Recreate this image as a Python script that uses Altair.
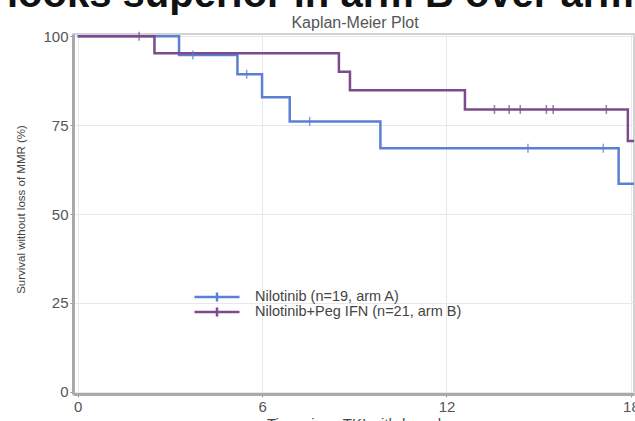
import altair as alt
import pandas as pd

# Kaplan-Meier step points (months, % surviving without loss of MMR)
arm_a_label = "Nilotinib (n=19, arm A)"
arm_a_time = [0, 3.3, 5.2, 6.0, 6.9, 9.85, 17.6, 18.1]
arm_a_surv = [100, 94.7, 89.3, 82.8, 76.0, 68.5, 58.5, 58.5]
arm_a_cens_time = [3.75, 5.5, 7.55, 14.65, 17.1]
arm_a_cens_surv = [94.7, 89.3, 76.0, 68.5, 68.5]

arm_b_label = "Nilotinib+Peg IFN (n=21, arm B)"
arm_b_time = [0, 2.5, 8.5, 8.86, 12.6, 17.9, 18.1]
arm_b_surv = [100, 95.2, 90.0, 84.8, 79.4, 70.5, 70.5]
arm_b_cens_time = [2.0, 13.56, 14.04, 14.4, 15.25, 15.47, 17.2]
arm_b_cens_surv = [100, 79.4, 79.4, 79.4, 79.4, 79.4, 79.4]

x_ticks = [0, 6, 12, 18]
y_ticks = [0, 25, 50, 75, 100]
headline = ["looks superior in arm B over arm"]
plot_title = ["Kaplan-Meier Plot"]

arms = [arm_a_label, arm_b_label]
colors = ["#5b7fd4", "#7b4b8e"]

curves = pd.concat([
    pd.DataFrame({"t": arm_a_time, "s": arm_a_surv, "arm": arm_a_label, "k": 0}),
    pd.DataFrame({"t": arm_b_time, "s": arm_b_surv, "arm": arm_b_label, "k": 1}),
])
censored = pd.concat([
    pd.DataFrame({"t": arm_a_cens_time, "s": arm_a_cens_surv, "arm": arm_a_label, "k": 0}),
    pd.DataFrame({"t": arm_b_cens_time, "s": arm_b_cens_surv, "arm": arm_b_label, "k": 1}),
])

x_enc = alt.X(
    "t:Q",
    scale=alt.Scale(domain=[-0.15, 18.1], nice=False, zero=False),
    axis=alt.Axis(
        values=x_ticks, title="Time since TKI withdrawal", labelFlush=False,
        labelOverlap=False, titlePadding=2,
    ),
)
y_enc = alt.Y(
    "s:Q",
    scale=alt.Scale(domain=[-0.6, 100.6], nice=False, zero=False),
    axis=alt.Axis(
        values=y_ticks, title="Survival without loss of MMR (%)",
        titleX=-52, titleY=175, titleAngle=270, titleBaseline="middle",
        titleAlign="center",
    ),
)
color_enc = alt.Color(
    "arm:N",
    scale=alt.Scale(domain=arms, range=colors),
    legend=alt.Legend(
        title=None, orient="none", legendX=120, legendY=256,
        symbolType="M-1,0L1,0M0,-0.2L0,0.2", symbolSize=2025,
        symbolStrokeWidth=2.5, symbolFillColor="transparent",
        clipHeight=14, rowPadding=0, labelOffset=14, labelLimit=400,
        labelFontSize=14.5, labelColor="#444", labelFont="Liberation Sans",
    ),
)

lines = alt.Chart(curves).mark_line(
    interpolate="step-after", strokeWidth=2.5, clip=True
).encode(x=x_enc, y=y_enc, color=color_enc, detail="arm:N", order="k:Q")

ticks = alt.Chart(censored).mark_tick(
    orient="vertical", size=9, thickness=1.6
).encode(x="t:Q", y="s:Q", color=alt.Color("arm:N", legend=None))

heading = alt.Chart(pd.DataFrame({"txt": headline})).mark_text(
    align="left", baseline="alphabetic", fontSize=40, fontWeight="bold",
    font="Liberation Sans", color="#111",
).encode(x=alt.value(-66), y=alt.value(-27), text="txt:N")

title_text = alt.Chart(pd.DataFrame({"txt": plot_title})).mark_text(
    align="center", baseline="alphabetic", fontSize=16,
    font="Liberation Sans", color="#555",
).encode(x=alt.value(282), y=alt.value(-6), text="txt:N")

chart = alt.layer(lines, ticks, heading, title_text).properties(
    width=561, height=360,
    autosize=alt.AutoSizeParams(type="none"),
    padding={"left": 73, "top": 34, "right": 1, "bottom": 27},
).configure_view(
    stroke="#c4c4c4", strokeWidth=1.5
).configure_axis(
    labelFont="Liberation Sans", titleFont="Liberation Sans",
    labelFontSize=15, labelColor="#555", titleColor="#444",
    titleFontWeight="normal", gridColor="#e8e8e8", gridWidth=1,
    domainColor="#a9a9a9", domainWidth=3, tickColor="#999", tickSize=3,
    labelPadding=2,
).configure_axisY(
    titleFontSize=11.5,
).configure_axisX(
    titleFontSize=15,
)

chart.save("out.html", embed_options={"renderer": "svg", "actions": False})
